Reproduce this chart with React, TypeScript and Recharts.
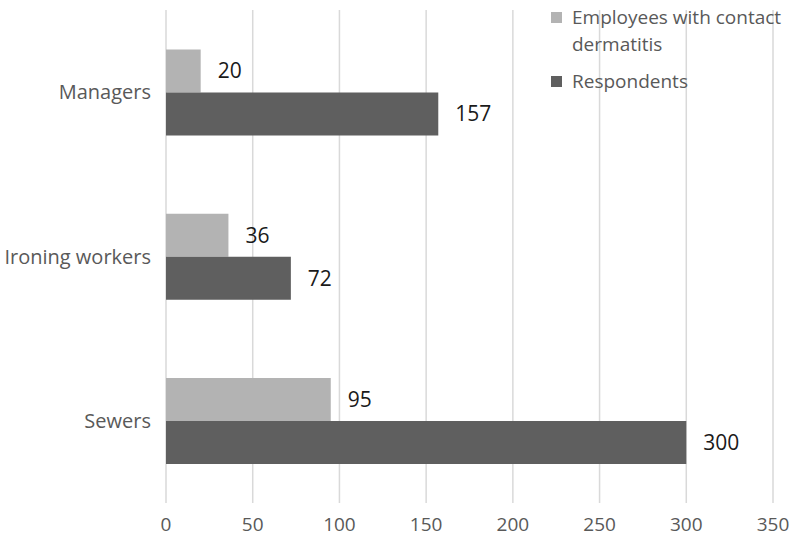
import React from "react";
import { BarChart, Bar, XAxis, YAxis, CartesianGrid, LabelList } from "recharts";

const categories = ["Managers", "Ironing workers", "Sewers"];
const dermatitis = [20, 36, 95];
const respondents = [157, 72, 300];
const xTicks = [0, 50, 100, 150, 200, 250, 300, 350];
const seriesNames = ["Employees with contact dermatitis", "Respondents"];
const seriesColors = ["#b3b3b3", "#5f5f5f"];

const data = categories.map((name, i) => ({
  name,
  dermatitis: dermatitis[i],
  respondents: respondents[i],
}));

const FONT = "'Open Sans', Lato, sans-serif";
const TEXT = "#595959";

export default function App() {
  return (
    <div style={{ position: "absolute", left: 0, top: 0, width: 800, height: 544, background: "#fff", fontFamily: FONT }}>
      <BarChart
        width={800}
        height={544}
        data={data}
        layout="vertical"
        margin={{ top: 10, right: 27, bottom: 11, left: 0 }}
        barCategoryGap="24%"
        barGap={0}
      >
        <CartesianGrid horizontal={false} vertical={true} stroke="#d9d9d9" strokeWidth={1.5} />
        <XAxis
          type="number"
          domain={[0, 350]}
          ticks={xTicks}
          axisLine={false}
          tickLine={false}
          height={30}
          tickMargin={9}
          tick={{ fill: TEXT, fontSize: 19, fontFamily: FONT }}
        />
        <YAxis
          type="category"
          dataKey="name"
          width={166}
          axisLine={false}
          tickLine={false}
          tickMargin={9}
          tick={{ fill: TEXT, fontSize: 20, fontFamily: FONT }}
        />
        <Bar dataKey="dermatitis" name={seriesNames[0]} fill={seriesColors[0]} isAnimationActive={false}>
          <LabelList dataKey="dermatitis" position="right" offset={17} fill="#1a1a1a" fontSize={21} fontFamily={FONT} />
        </Bar>
        <Bar dataKey="respondents" name={seriesNames[1]} fill={seriesColors[1]} isAnimationActive={false}>
          <LabelList dataKey="respondents" position="right" offset={17} fill="#1a1a1a" fontSize={21} fontFamily={FONT} />
        </Bar>
      </BarChart>
      <div style={{ position: "absolute", left: 551, top: 4, width: 249, color: TEXT, fontSize: 19, lineHeight: "27px" }}>
        {seriesNames.map((n, i) => (
          <div key={n} style={{ display: "flex", alignItems: "flex-start", marginBottom: 10 }}>
            <span style={{ display: "inline-block", width: 11, height: 11, background: seriesColors[i], marginTop: 8, marginRight: 10, flexShrink: 0 }} />
            <span style={{ whiteSpace: "nowrap" }}>{i === 0 ? <>Employees with contact<br />dermatitis</> : n}</span>
          </div>
        ))}
      </div>
    </div>
  );
}
